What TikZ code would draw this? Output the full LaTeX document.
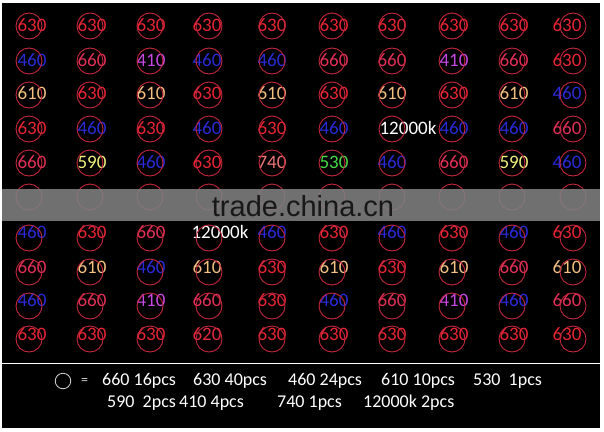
\documentclass[tikz,border=0pt]{standalone}
\usepackage{fontspec}
\setmainfont{Carlito}
\newfontfamily\wmfont{Liberation Sans}
\definecolor{c630}{RGB}{232,36,52}
\definecolor{c620}{RGB}{228,40,62}
\definecolor{c460}{RGB}{42,42,215}
\definecolor{c660}{RGB}{226,48,88}
\definecolor{c410}{RGB}{200,72,228}
\definecolor{c610}{RGB}{244,192,128}
\definecolor{c590}{RGB}{240,240,125}
\definecolor{c530}{RGB}{72,220,72}
\definecolor{c740}{RGB}{236,118,118}
\definecolor{cw}{RGB}{255,255,255}
\definecolor{cring}{RGB}{196,40,62}
\definecolor{bandgray}{RGB}{128,128,128}
\definecolor{wmtext}{RGB}{24,24,24}
\definecolor{legring}{RGB}{215,215,215}
\tikzset{
  lbl/.style={inner sep=0pt, font=\fontsize{19}{19}\selectfont},
  ring/.style={circle, draw=cring, line width=0.9pt, minimum size=26pt, inner sep=0pt},
  legtxt/.style={inner sep=0pt, anchor=west, text=white, font=\fontsize{18}{18}\selectfont},
}
\newcommand\gridrow[4]{%
  \foreach \lab/\col/\dx [count=\c] in {#4} {
    \pgfmathsetmacro\cx{{29,90,150,209,272,332,392,452,512,573}[\c-1]}
    \pgfmathsetmacro\tx{{32,92,151,207,272,334,392,454,514,567}[\c-1]}
    \node[lbl, text=\col] (t#1-\c) at ({\tx+\dx},#3) {\lab};
    \node[ring] (o#1-\c) at (\cx,#2) {};
  }%
}
\begin{document}
\begin{tikzpicture}[x=1pt,y=-1pt]
\useasboundingbox (0,0) rectangle (604,431);
\fill[white] (0,0) rectangle (604,431);
\fill[black] (2,2.5) rectangle (600,428);
\gridrow{1}{26}{25}{630/c630/0,630/c630/0,630/c630/0,630/c630/0,630/c630/0,630/c630/0,630/c630/0,630/c630/0,630/c630/0,630/c630/0}
\gridrow{2}{61}{60}{460/c460/0,660/c660/0,410/c410/0,460/c460/0,460/c460/0,660/c660/0,660/c660/0,410/c410/0,660/c660/0,630/c630/0}
\gridrow{3}{95}{93}{610/c610/0,630/c630/0,610/c610/0,630/c630/0,610/c610/0,630/c630/0,610/c610/0,630/c630/0,610/c610/0,460/c460/0}
\gridrow{4}{129}{128}{630/c630/0,460/c460/0,630/c630/0,460/c460/0,630/c630/0,460/c460/0,12000k/cw/16,460/c460/0,460/c460/0,660/c660/0}
\gridrow{5}{163}{162}{660/c660/0,590/c590/0,460/c460/0,630/c630/0,740/c740/0,530/c530/0,460/c460/0,660/c660/0,590/c590/0,460/c460/0}
\gridrow{7}{238}{232}{460/c460/0,630/c630/0,660/c660/0,12000k/cw/13,460/c460/0,630/c630/0,460/c460/0,630/c630/0,460/c460/0,630/c630/0}
\gridrow{8}{272}{267}{660/c660/0,610/c610/0,460/c460/0,610/c610/0,630/c630/0,610/c610/0,630/c630/0,610/c610/0,660/c660/0,610/c610/0}
\gridrow{9}{306}{300}{460/c460/0,660/c660/0,410/c410/0,660/c660/0,630/c630/0,460/c460/0,660/c660/0,410/c410/0,460/c460/0,660/c660/0}
\gridrow{10}{339}{334}{630/c630/0,630/c630/0,630/c630/0,620/c620/0,630/c630/0,630/c630/0,630/c630/0,630/c630/0,630/c630/0,630/c630/0}
% hidden row behind the watermark band
\foreach \cx [count=\c] in {29,90,150,209,272,332,392,452,512,573}{
  \node[ring] (h-\c) at (\cx,197) {};
}
\fill[bandgray, opacity=0.88] (2,189) rectangle (600,221);
\node[inner sep=0pt, text=wmtext, font=\wmfont\fontsize{29}{29}\selectfont] (wm) at (303,206) {trade.china.cn};
% legend
\draw[white, line width=1.5pt] (2,363.5) -- (600,363.5);
\node[circle, draw=legring, line width=0.8pt, minimum size=15.5pt, inner sep=0pt] (legc) at (63,381) {};
\node[inner sep=0pt, text=legring, font=\fontsize{14}{14}\selectfont] (eq) at (84.5,381) {=};
\node[legtxt] (l1) at (102,381) {660 16pcs};
\node[legtxt] (l2) at (193,381) {630 40pcs};
\node[legtxt] (l3) at (288,381) {460 24pcs};
\node[legtxt] (l4) at (381,381) {610 10pcs};
\node[legtxt] (l5) at (473,381) {530\ \ 1pcs};
\node[legtxt] (l6) at (107,403) {590\ \ 2pcs};
\node[legtxt] (l7) at (179,403) {410 4pcs};
\node[legtxt] (l8) at (277,403) {740 1pcs};
\node[legtxt] (l9) at (363,403) {12000k 2pcs};
\end{tikzpicture}
\end{document}
